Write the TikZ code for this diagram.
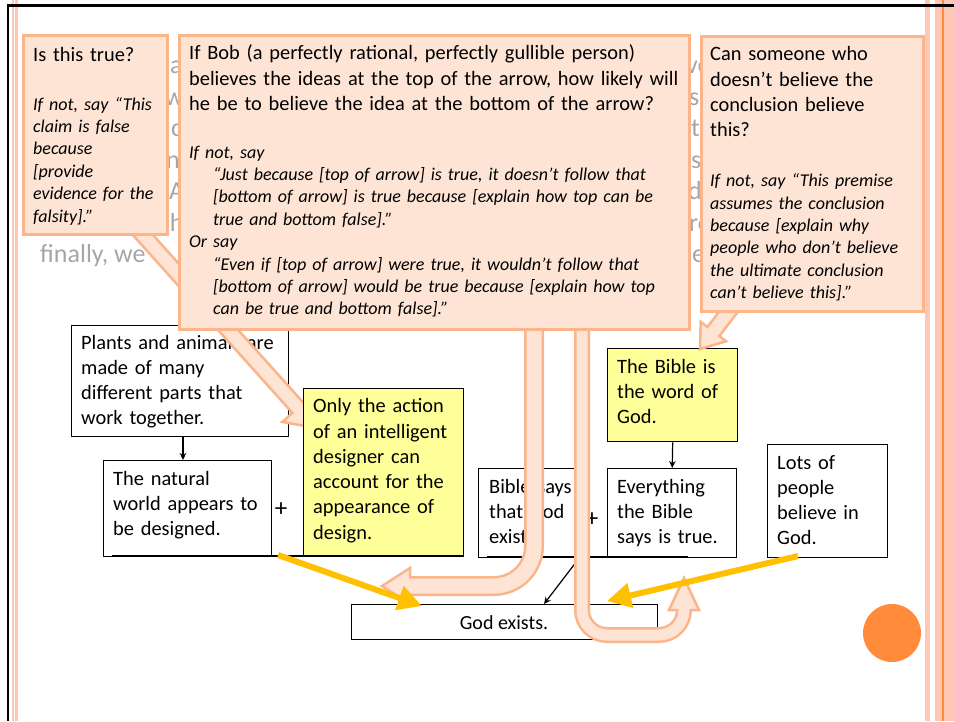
\documentclass[tikz,border=0pt]{standalone}
\usepackage{fontspec}
\setmainfont{Carlito}
\usetikzlibrary{calc,arrows.meta}

\definecolor{peach}{HTML}{FDE4D5}
\definecolor{peachline}{HTML}{FBB58A}
\definecolor{notey}{HTML}{FFFF99}
\definecolor{goldarr}{HTML}{FFC000}
\definecolor{stripe}{HTML}{FFC8B3}
\definecolor{frameorange}{HTML}{FF8A3D}
\definecolor{dotorange}{HTML}{FF8B3B}
\definecolor{bggray}{HTML}{A6A6A6}

\tikzset{
  callbox/.style={draw=peachline, line width=3pt, fill=peach, anchor=north west, inner sep=0pt},
  tailshape/.style={draw=peachline, line width=2.5pt, fill=peach, line join=miter},
  argbox/.style={draw=black, line width=1.4pt, fill=white, anchor=north west, inner sep=0pt},
  notebox/.style={argbox, fill=notey},
  txt/.style={anchor=base west, inner sep=0pt, text width=560pt, align=left,
              font=\fontsize{20.4}{25.3}\selectfont},
  itxt/.style={anchor=base west, inner sep=0pt, text width=560pt, align=left,
               font=\fontsize{18}{22.4}\selectfont\itshape},
  faint/.style={anchor=base west, inner sep=0pt, text=bggray,
                font=\fontsize{26}{31.5}\selectfont},
  plussign/.style={inner sep=0pt, font=\fontsize{25}{28}\selectfont},
  thinarrow/.style={draw=black, line width=1.2pt, -{Stealth[length=7pt,width=6.5pt]}},
  barline/.style={draw=black, line width=2.6pt},
  goldline/.style={draw=goldarr, line width=6pt, -{Triangle[length=24pt,width=24pt]}},
  uout/.style={draw=peachline, rounded corners=#1},
  uin/.style={draw=peach, rounded corners=#1},
}

% block-arrow tail: start, tip, half shaft, half head, head length, name
\newcommand{\calltail}[6]{%
  \coordinate (#6s) at (#1);
  \coordinate (#6t) at (#2);
  \coordinate (#6b) at ($(#6t)!#5!(#6s)$);
  \path[tailshape] ($(#6s)!#3!90:(#6t)$) -- ($(#6b)!#3!90:(#6t)$)
     -- ($(#6b)!#4!90:(#6t)$) -- (#6t) -- ($(#6b)!#4!-90:(#6t)$)
     -- ($(#6b)!#3!-90:(#6t)$) -- ($(#6s)!#3!-90:(#6t)$) -- cycle;
}

\begin{document}
\begin{tikzpicture}[x=1pt,y=-1pt]
\useasboundingbox (0,0) rectangle (954,721);
\fill[white] (0,0) rectangle (954,721);

% slide frame
\fill[stripe] (12,0) rectangle (18,721);
\draw[white, line width=0.8pt] (14.4,0) -- (14.4,721);
\fill[stripe] (925,0) rectangle (930,721);
\fill[stripe] (935,0) rectangle (954,721);
\fill[frameorange] (941.8,0) rectangle (944.4,721);
\fill[black] (7,4.2) rectangle (954,6.8);
\fill[black] (7,4.2) rectangle (9.4,721);
\fill[dotorange] (892,633) circle (29pt);

% slide body text lying underneath the callouts
\node[faint] (g1) at (170,73.5) {a};
\node[faint] (g2) at (165,105) {w};
\node[faint] (g3) at (171,136.5) {c};
\node[faint] (g4) at (166,168) {nt};
\node[faint] (g5) at (169,199.5) {A};
\node[faint] (g6) at (161,231) {th};
\node[faint] (g7) at (40,262.5) {finally, we};
\node[faint] (h1) at (686,73.5) {vo};
\node[faint] (h2) at (689,105) {s};
\node[faint] (h3) at (691,136.5) {t};
\node[faint] (h4) at (678,168) {es};
\node[faint] (h5) at (688,199.5) {d};
\node[faint] (h6) at (689,231) {rc};
\node[faint] (h7) at (686,262.5) {ie};

% argument map
\node[argbox, minimum width=217pt, minimum height=111pt] (plants) at (71,325) {};
\node[txt] (plantsT) at (81,349) {Plants and animals are\\made of many\\different parts that\\work together.};

% tail of the first callout runs over the first premise, under the yellow one
\calltail{125,215}{316,428}{7.5pt}{21pt}{27pt}{ta}

\node[argbox, minimum width=168pt, minimum height=96pt] (natural) at (103,460) {};
\node[txt] (naturalT) at (113,485) {The natural\\world appears to\\be designed.};
\node[notebox, minimum width=160pt, minimum height=168pt] (design) at (303,388) {};
\node[txt] (designT) at (313,412.7) {Only the action\\of an intelligent\\designer can\\account for the\\appearance of\\design.};
\node[plussign] (plus1) at (281,510) {+};

\node[argbox, minimum width=102pt, minimum height=89pt] (bsays) at (478,468) {};
\node[txt] (bsaysT) at (489,493.3) {Bible says\\that God\\exists.};
\node[argbox, minimum width=129pt, minimum height=89pt] (every) at (607,468) {};
\node[txt] (everyT) at (617,493.3) {Everything\\the Bible\\says is true.};
\node[notebox, minimum width=130pt, minimum height=93pt] (bword) at (607,348) {};
\node[txt] (bwordT) at (617,373.3) {The Bible is\\the word of\\God.};
\node[plussign] (plus2) at (592,520) {+};
\node[argbox, minimum width=120pt, minimum height=113pt] (lots) at (767,444) {};
\node[txt] (lotsT) at (777,469) {Lots of\\people\\believe in\\God.};
\node[argbox, minimum width=306pt, minimum height=35pt] (god) at (351,604) {};
\node[font=\fontsize{20}{24}\selectfont, inner sep=0pt, anchor=base] (godT) at (504,629) {God exists.};

\coordinate (px) at (183,0);
\draw[thinarrow] (plants.south -| px) -- (natural.north -| px);
\draw[thinarrow] (bword.south) -- (every.north);
\draw[barline] (112,556) -- (463,556);
\draw[barline] (487,557) -- (688,557);
\coordinate (barR) at (580,557);
\coordinate (gx) at (544,0);
\draw[thinarrow] (barR) -- (god.north -| gx);

% U-turn arrows hanging from the middle callout
\draw[uout=40pt, line width=20pt] (534,300) -- (534,586) -- (410,586);
\path[tailshape] (410,568) -- (382,586) -- (410,604) -- cycle;
\draw[uin=40pt, line width=15pt] (534,300) -- (534,586) -- (406,586);

\draw[uout=25pt, line width=16pt] (582,300) -- (582,635) -- (684,635) -- (684,610);
\path[tailshape] (669,610) -- (684,578) -- (699,610) -- cycle;
\draw[uin=25pt, line width=11pt] (582,300) -- (582,635) -- (684,635) -- (684,606);

% support arrows
\coordinate (gA) at (278,555);
\coordinate (gB) at (422,606);
\draw[goldline] (gA) -- (gB);
\coordinate (gC) at (798,556);
\coordinate (gD) at (607,601);
\draw[goldline] (gC) -- (gD);

% tail of the third callout
\calltail{739,298}{700,349}{7.5pt}{16pt}{22pt}{tc}

% callouts
\node[callbox, minimum width=144pt, minimum height=199pt] (c1) at (22,34) {};
\node[txt] (c1q) at (33,61) {Is this true?};
\node[itxt] (c1i) at (33,110) {If not, say “This\\claim is false\\because\\{}[provide\\evidence for the\\falsity].”};

\node[callbox, minimum width=510pt, minimum height=294pt] (c2) at (178,34) {};
\node[txt, font=\fontsize{20.4}{25.7}\selectfont] (c2q) at (189,59.5) {If Bob (a perfectly rational, perfectly gullible person)\\believes the ideas at the top of the arrow, how likely will\\he be to believe the idea at the bottom of the arrow?};
\node[itxt] (c2i) at (189,158) {If not, say\\
\hspace*{24pt}“Just because [top of arrow] is true, it doesn’t follow that\\
\hspace*{24pt}[bottom of arrow] is true because [explain how top can be\\
\hspace*{24pt}true and bottom false].”\\
Or say\\
\hspace*{24pt}“Even if [top of arrow] were true, it wouldn’t follow that\\
\hspace*{24pt}[bottom of arrow] would be true because [explain how top\\
\hspace*{24pt}can be true and bottom false].”};

\node[callbox, minimum width=222pt, minimum height=275pt] (c3) at (700,35) {};
\node[txt] (c3q) at (710,60.7) {Can someone who\\doesn’t believe the\\conclusion believe\\this?};
\node[itxt] (c3i) at (710,186.7) {If not, say “This premise\\assumes the conclusion\\because [explain why\\people who don’t believe\\the ultimate conclusion\\can’t believe this].”};
\end{tikzpicture}
\end{document}
